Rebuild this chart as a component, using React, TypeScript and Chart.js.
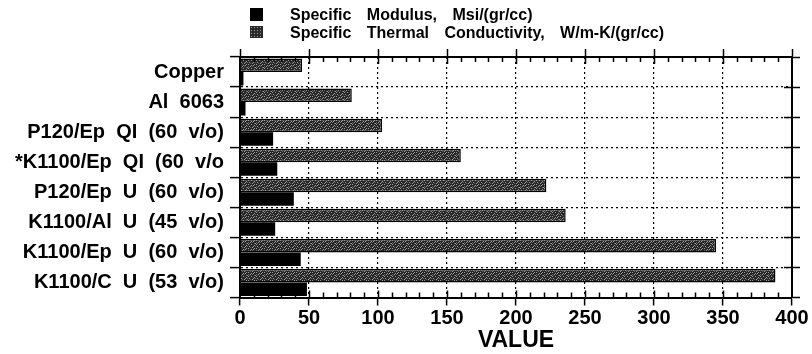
import React, { useEffect, useRef } from "react";
import { Chart, registerables } from "chart.js";

Chart.register(...registerables);

const categories = [
  "Copper",
  "Al  6063",
  "P120/Ep  QI  (60  v/o)",
  "*K1100/Ep  QI  (60  v/o",
  "P120/Ep  U  (60  v/o)",
  "K1100/Al  U  (45  v/o)",
  "K1100/Ep  U  (60  v/o)",
  "K1100/C  U  (53  v/o)",
];
const thermalValues = [45, 81, 103, 160, 222, 236, 345, 388];
const modulusValues = [2.5, 4, 24, 27, 39, 25.5, 44, 48.5];
const xTickStep = 50;
const xMin = 0;
const xMax = 400;
const minorStep = 10;
const xTitle = "VALUE";
const legendModulus = "Specific Modulus, Msi/(gr/cc)";
const legendThermal = "Specific Thermal Conductivity, W/m-K/(gr/cc)";

const FONT = "'Liberation Sans', Arial, Helvetica, sans-serif";

function makePattern(): CanvasPattern | string {
  const c = document.createElement("canvas");
  c.width = 8;
  c.height = 8;
  const g = c.getContext("2d");
  if (!g) return "#444";
  g.fillStyle = "#262626";
  g.fillRect(0, 0, 8, 8);
  g.fillStyle = "#9c9c9c";
  const dots = [
    [0, 0], [5, 1], [2, 2], [7, 3], [3, 4], [6, 5], [1, 6], [4, 7], [0, 4], [6, 0], [3, 1], [5, 6],
  ];
  for (const [x, y] of dots) g.fillRect(x, y, 1, 1);
  g.fillStyle = "#606060";
  const dots2 = [[1, 3], [4, 2], [7, 6], [2, 7], [6, 3], [0, 2]];
  for (const [x, y] of dots2) g.fillRect(x, y, 1, 1);
  const p = g.createPattern(c, "repeat");
  return p || "#444";
}

const minorTicks = {
  id: "minorTicks",
  afterDraw(chart: any) {
    const { ctx, chartArea } = chart;
    const x = chart.scales.x;
    const y = chart.scales.y;
    ctx.save();
    ctx.strokeStyle = "#000";
    ctx.lineWidth = 1.5;
    ctx.beginPath();
    for (let v = xMin + minorStep; v < xMax; v += minorStep) {
      const px = Math.round(x.getPixelForValue(v)) + 0.5;
      const len = v % xTickStep === 0 ? 7 : 5;
      ctx.moveTo(px, chartArea.bottom);
      ctx.lineTo(px, chartArea.bottom - len);
      ctx.moveTo(px, chartArea.top);
      ctx.lineTo(px, chartArea.top + len);
    }
    for (let i = 1; i < categories.length; i++) {
      const py = Math.round(y.getPixelForValue(i - 0.5)) + 0.5;
      ctx.moveTo(chartArea.right, py);
      ctx.lineTo(chartArea.right - 8, py);
    }
    ctx.stroke();
    ctx.restore();
  },
};

export default function App() {
  const ref = useRef<HTMLCanvasElement>(null);
  useEffect(() => {
    if (!ref.current) return;
    const pattern = makePattern();
    const chart = new Chart(ref.current, {
      type: "bar",
      data: {
        labels: categories,
        datasets: [
          {
            label: legendThermal,
            data: thermalValues,
            backgroundColor: pattern as any,
            borderColor: "#000",
            borderWidth: 1.5,
            yAxisID: "y",
          },
          {
            label: legendModulus,
            data: modulusValues,
            backgroundColor: "#000",
            borderColor: "#000",
            borderWidth: 0,
            yAxisID: "y",
          },
        ],
      },
      options: {
        indexAxis: "y",
        animation: false,
        responsive: true,
        maintainAspectRatio: false,
        datasets: { bar: { categoryPercentage: 0.9, barPercentage: 1.0 } },
        layout: { padding: { top: 49, right: 12, bottom: 0, left: 0 } },
        plugins: { legend: { display: false }, tooltip: { enabled: false } },
        scales: {
          x: {
            type: "linear",
            position: "bottom",
            min: xMin,
            max: xMax,
            ticks: {
              stepSize: xTickStep,
              color: "#000",
              font: { family: FONT, size: 20, weight: "bold" },
              padding: 1,
            },
            grid: {
              color: "#000",
              lineWidth: 1.2,
              drawTicks: true,
              tickLength: 8,
              tickColor: "#000",
              tickWidth: 1.5,
              tickBorderDash: [],
            },
            border: { display: true, color: "#000", width: 2, dash: [2, 3] },
            title: {
              display: true,
              text: xTitle,
              color: "#000",
              font: { family: FONT, size: 23, weight: "bold", lineHeight: 1.0 },
              padding: { top: 0, bottom: 2 },
            },
            afterFit: (s: any) => {
              s.height = 56.5;
            },
          },
          x2: {
            type: "linear",
            position: "top",
            min: xMin,
            max: xMax,
            ticks: { stepSize: xTickStep, display: false },
            grid: {
              drawOnChartArea: false,
              drawTicks: true,
              tickLength: 8,
              tickColor: "#000",
              tickWidth: 1.5,
            },
            border: { display: true, color: "#000", width: 2 },
          },
          y: {
            type: "category",
            position: "left",
            offset: true,
            ticks: {
              color: "#000",
              font: { family: FONT, size: 20, weight: "bold" },
              padding: 6,
              autoSkip: false,
            },
            grid: {
              offset: true,
              color: "#000",
              lineWidth: 1.2,
              drawTicks: true,
              tickLength: 10,
              tickColor: "#000",
              tickWidth: 1.5,
              tickBorderDash: [],
            },
            border: { display: true, color: "#000", width: 2, dash: [2, 3] },
            afterFit: (s: any) => {
              s.width = 240;
            },
          },
          y2: {
            type: "category",
            position: "right",
            offset: true,
            labels: categories,
            ticks: { display: false },
            grid: {
              offset: true,
              drawOnChartArea: false,
              drawTicks: true,
              tickLength: 8,
              tickColor: "#000",
              tickWidth: 1.5,
            },
            border: { display: true, color: "#000", width: 2 },
          },
        },
      },
      plugins: [minorTicks],
    });
    return () => chart.destroy();
  }, []);

  const legendText: React.CSSProperties = {
    position: "absolute",
    left: 290,
    fontFamily: FONT,
    fontSize: 16,
    fontWeight: "bold",
    whiteSpace: "pre",
    wordSpacing: "11px",
    color: "#000",
    lineHeight: "16px",
  };
  return (
    <div style={{ position: "absolute", left: 0, top: 0, width: 812, height: 354, background: "#fff" }}>
      <canvas ref={ref} />
      <div style={{ position: "absolute", left: 250, top: 8, width: 13, height: 13, background: "#000" }} />
      <div style={{ ...legendText, top: 6.5 }}>{legendModulus}</div>
      <div
        style={{
          position: "absolute",
          left: 250,
          top: 26,
          width: 13,
          height: 12,
          background: "radial-gradient(#9c9c9c 0.5px, transparent 0.9px) 0 0 / 3px 3px, #2a2a2a",
        }}
      />
      <div style={{ ...legendText, top: 24.5 }}>{legendThermal}</div>
    </div>
  );
}
